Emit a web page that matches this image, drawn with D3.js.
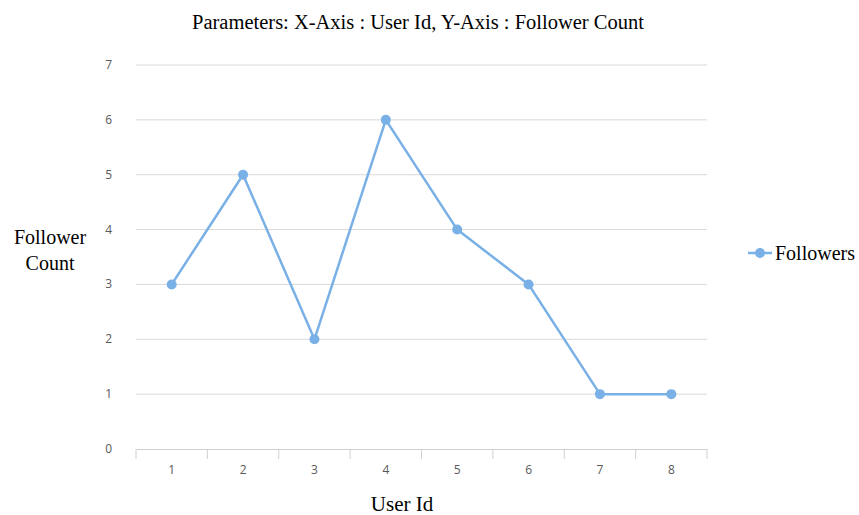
<!DOCTYPE html>
<html><head><meta charset="utf-8">
<script src="https://cdn.jsdelivr.net/npm/d3@7"></script>
<style>body{margin:0;background:#fff;} svg{display:block;}</style>
</head><body>
<svg id="c" width="859" height="515"></svg>
<script>
const categories = ["1","2","3","4","5","6","7","8"];
const followers = [3,5,2,6,4,3,1,1];
const yTicks = [0,1,2,3,4,5,6,7];
const seriesName = "Followers";
const titleText = "Parameters: X-Axis : User Id, Y-Axis : Follower Count";

const svg = d3.select("#c");
const m = {l:136, r:707, t:65, b:449};
const x = d3.scaleBand().domain(categories).range([m.l, m.r]);
const y = d3.scaleLinear().domain([0,7]).range([m.b, m.t]);
const blue = "#79b0e6";
const serif = "'Liberation Serif','Times New Roman',serif";
const sans = "'Open Sans','DejaVu Sans',sans-serif";

// gridlines
svg.append("g").selectAll("line").data(yTicks.filter(d=>d>0)).join("line")
  .attr("x1", m.l).attr("x2", m.r)
  .attr("y1", d=>y(d)).attr("y2", d=>y(d))
  .attr("stroke", "#d9d9d9").attr("stroke-width", 1);

// y labels
svg.append("g").selectAll("text").data(yTicks).join("text")
  .attr("x", 112).attr("y", d=>y(d)+4)
  .attr("text-anchor","end").attr("font-family", sans).attr("font-size", 12)
  .attr("fill", "#595959").text(d=>d);

// x axis
const xAxis = d3.axisBottom(x).tickSize(0).tickPadding(0);
const gx = svg.append("g").attr("transform", `translate(0,${m.b})`).call(xAxis);
gx.select(".domain").attr("stroke", "#d0d0d0");
gx.selectAll(".tick text").attr("dy", 0).attr("y", 25).attr("font-family", sans)
  .attr("font-size", 12).attr("fill", "#595959");
// dividers between categories
const edges = categories.map(c=>x(c)).concat([m.r]);
svg.append("g").selectAll("line").data(edges).join("line")
  .attr("x1", d=>d).attr("x2", d=>d).attr("y1", m.b).attr("y2", m.b+10)
  .attr("stroke", "#d0d0d0");

// line
const line = d3.line().x((d,i)=>x(categories[i])+x.bandwidth()/2).y(d=>y(d));
svg.append("path").datum(followers).attr("d", line)
  .attr("fill","none").attr("stroke", blue).attr("stroke-width", 2.5).attr("stroke-linejoin","round");
svg.append("g").selectAll("circle").data(followers).join("circle")
  .attr("cx", (d,i)=>x(categories[i])+x.bandwidth()/2).attr("cy", d=>y(d))
  .attr("r", 5).attr("fill", blue);

// title
svg.append("text").attr("x", 418).attr("y", 29).attr("text-anchor","middle")
  .attr("font-family", serif).attr("font-size", 20.5).attr("fill","#000").text(titleText);
// x title
svg.append("text").attr("x", 402).attr("y", 511).attr("text-anchor","middle")
  .attr("font-family", serif).attr("font-size", 21).attr("fill","#000").text("User Id");
// y title
const yt = svg.append("text").attr("text-anchor","middle")
  .attr("font-family", serif).attr("font-size", 20).attr("fill","#000");
yt.append("tspan").attr("x", 50).attr("y", 244).text("Follower");
yt.append("tspan").attr("x", 50).attr("y", 270).text("Count");

// legend
const lg = svg.append("g");
lg.append("line").attr("x1", 748).attr("x2", 772).attr("y1", 253).attr("y2", 253)
  .attr("stroke", blue).attr("stroke-width", 2.5);
lg.append("circle").attr("cx", 760).attr("cy", 253).attr("r", 5).attr("fill", blue);
lg.append("text").attr("x", 775).attr("y", 260).attr("font-family", serif)
  .attr("font-size", 20).attr("fill","#000").text(seriesName);
</script>
</body></html>
